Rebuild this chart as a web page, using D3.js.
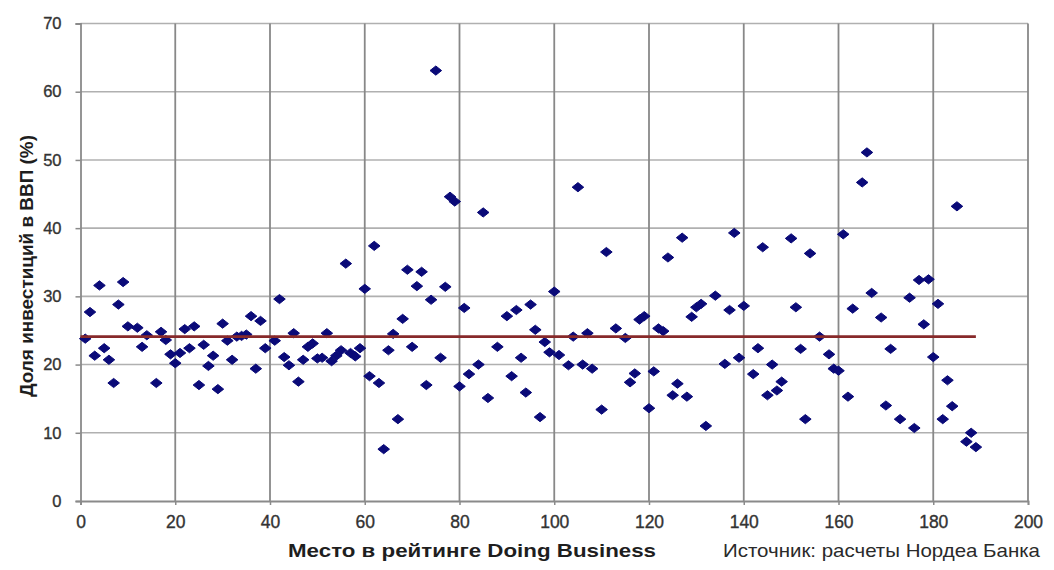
<!DOCTYPE html>
<html lang="ru">
<head>
<meta charset="utf-8">
<script src="https://cdn.jsdelivr.net/npm/d3@7"></script>
<style>
  html, body { margin: 0; padding: 0; background: #fff; }
  svg { display: block; font-family: "Liberation Sans", Arial, sans-serif; }
</style>
</head>
<body>
<svg id="chart" width="1054" height="570"></svg>
<script>
// Place in the Doing Business ranking (x) and investment share of GDP, % (y)
const ranks = [
  1,2,3,4,5,6,7,8,9,10,12,13,14,16,17,18,19,20,21,22,23,24,25,26,27,28,29,30,
  31,32,33,34,35,36,37,38,39,41,42,43,44,45,46,47,48,49,50,51,52,53,54,55,56,57,
  58,59,60,61,62,63,64,65,66,67,68,69,70,71,72,73,74,75,76,77,78,79,80,81,82,84,
  85,86,88,90,91,92,93,94,95,96,97,98,99,100,101,103,104,105,106,107,108,110,111,
  113,115,116,117,118,119,120,121,122,123,124,125,126,127,128,129,130,131,132,134,
  136,137,138,139,140,142,143,144,145,146,147,148,150,151,152,153,154,156,158,159,
  160,161,162,163,165,166,167,169,170,171,173,175,176,177,178,179,180,181,182,183,
  184,185,187,188,189
];
const investmentShare = [
  23.8,27.7,21.3,31.6,22.4,20.7,17.3,28.8,32.1,25.6,25.4,22.6,24.3,17.3,24.8,23.6,
  21.5,20.2,21.7,25.2,22.4,25.6,17.0,22.9,19.8,21.3,16.4,26.0,
  23.5,20.7,24.1,24.2,24.4,27.1,19.4,26.4,22.4,23.5,29.6,21.1,19.9,24.6,17.5,20.7,
  22.6,23.1,20.9,21.0,24.6,20.5,21.3,22.1,34.8,21.7,
  21.2,22.4,31.1,18.3,37.4,17.3,7.6,22.1,24.5,12.0,26.7,33.9,22.6,31.5,33.6,17.0,
  29.5,63.1,21.0,31.4,44.6,43.9,16.8,28.3,18.6,20.0,
  42.3,15.1,22.6,27.1,18.3,28.0,21.0,15.9,28.8,25.1,12.3,23.3,21.8,30.7,21.4,19.9,
  24.1,46.0,20.0,24.6,19.4,13.4,36.5,
  25.3,23.9,17.4,18.7,26.6,27.1,13.6,19.0,25.3,24.9,35.7,15.5,17.2,38.6,15.3,27.0,
  28.4,28.9,11.0,30.1,
  20.1,28.0,39.3,21.0,28.6,18.6,22.4,37.2,15.5,20.0,16.2,17.5,38.5,28.4,22.3,12.0,
  36.3,24.1,21.5,19.4,
  19.1,39.1,15.3,28.2,46.7,51.1,30.5,26.9,14.0,22.3,12.0,29.8,10.7,32.4,25.9,32.5,
  21.1,28.9,12.0,17.7,
  13.9,43.2,8.7,10.0,7.9
];

// Average investment share, drawn as a horizontal line across the ranking
const meanShare = 24.1;
const meanRange = [0, 189];

const xTicks = [0, 20, 40, 60, 80, 100, 120, 140, 160, 180, 200];
const yTicks = [0, 10, 20, 30, 40, 50, 60, 70];

const xTitle = "Место в рейтинге Doing Business";
const yTitle = "Доля инвестиций в ВВП (%)";
const sourceNote = "Источник: расчеты Нордеа Банка";

const points = ranks.map((r, i) => ({ rank: r, share: investmentShare[i] }));

const svg = d3.select("#chart");
const plot = { left: 80.5, right: 1028, top: 23.5, bottom: 501 };

const x = d3.scaleLinear().domain([0, 200]).range([plot.left, plot.right]);
const y = d3.scaleLinear().domain([0, 70]).range([plot.bottom, plot.top]);

// Grid
const grid = svg.append("g");
grid.selectAll("line.h")
  .data(yTicks.filter(d => d > 0))
  .join("line")
  .attr("class", "h")
  .attr("x1", plot.left).attr("x2", plot.right)
  .attr("y1", d => y(d)).attr("y2", d => y(d))
  .attr("stroke", "#b0b0b0").attr("stroke-width", 1.6);
grid.selectAll("line.v")
  .data(xTicks.filter(d => d > 0))
  .join("line")
  .attr("class", "v")
  .attr("x1", d => x(d)).attr("x2", d => x(d))
  .attr("y1", plot.top).attr("y2", plot.bottom)
  .attr("stroke", "#888888").attr("stroke-width", 1.8);

// Axes
const xAxis = svg.append("g")
  .attr("transform", `translate(0,${plot.bottom})`)
  .call(d3.axisBottom(x).tickValues(xTicks).tickSize(4).tickPadding(11).tickFormat(d3.format("d")));
const yAxis = svg.append("g")
  .attr("transform", `translate(${plot.left},0)`)
  .call(d3.axisLeft(y).tickValues(yTicks).tickSize(5).tickPadding(14).tickFormat(d3.format("d")));

[xAxis, yAxis].forEach(g => {
  g.select(".domain").attr("stroke", "#8a8a8a").attr("stroke-width", 1.8);
  g.selectAll(".tick line").attr("stroke", "#8a8a8a").attr("stroke-width", 1.5);
  g.selectAll(".tick text")
    .attr("fill", "#333333")
    .attr("stroke", "#333333")
    .attr("stroke-width", 0.35)
    .style("font-family", '"Liberation Sans", Arial, sans-serif');
});
xAxis.selectAll(".tick text").style("font-size", "17.5px");
yAxis.selectAll(".tick text").style("font-size", "16.5px");

// Points: navy diamonds
const diamond = "M0,-4.6L5.8,0L0,4.6L-5.8,0Z";
svg.append("g")
  .selectAll("path")
  .data(points)
  .join("path")
  .attr("d", diamond)
  .attr("transform", d => `translate(${x(d.rank)},${y(d.share)})`)
  .attr("fill", "#0a0a78")
  .attr("stroke", "#0a0a78")
  .attr("stroke-width", 1)
  .attr("stroke-linejoin", "round");

// Mean line
svg.append("line")
  .attr("x1", x(meanRange[0])).attr("x2", x(meanRange[1]))
  .attr("y1", y(meanShare)).attr("y2", y(meanShare))
  .attr("stroke", "#87292a")
  .attr("stroke-width", 2.8);

// Titles
svg.append("text")
  .attr("x", 472).attr("y", 557)
  .attr("text-anchor", "middle")
  .attr("font-size", 18.5).attr("font-weight", "bold")
  .attr("fill", "#1e1e1e")
  .attr("textLength", 368).attr("lengthAdjust", "spacingAndGlyphs")
  .text(xTitle);

svg.append("text")
  .attr("transform", "translate(33,266) rotate(-90)")
  .attr("text-anchor", "middle")
  .attr("font-size", 18).attr("font-weight", "bold")
  .attr("fill", "#1e1e1e")
  .attr("textLength", 262).attr("lengthAdjust", "spacingAndGlyphs")
  .text(yTitle);

svg.append("text")
  .attr("x", 723).attr("y", 557)
  .attr("text-anchor", "start")
  .attr("font-size", 18.5)
  .attr("fill", "#2a2a2a")
  .attr("textLength", 317).attr("lengthAdjust", "spacingAndGlyphs")
  .text(sourceNote);
</script>
</body>
</html>
